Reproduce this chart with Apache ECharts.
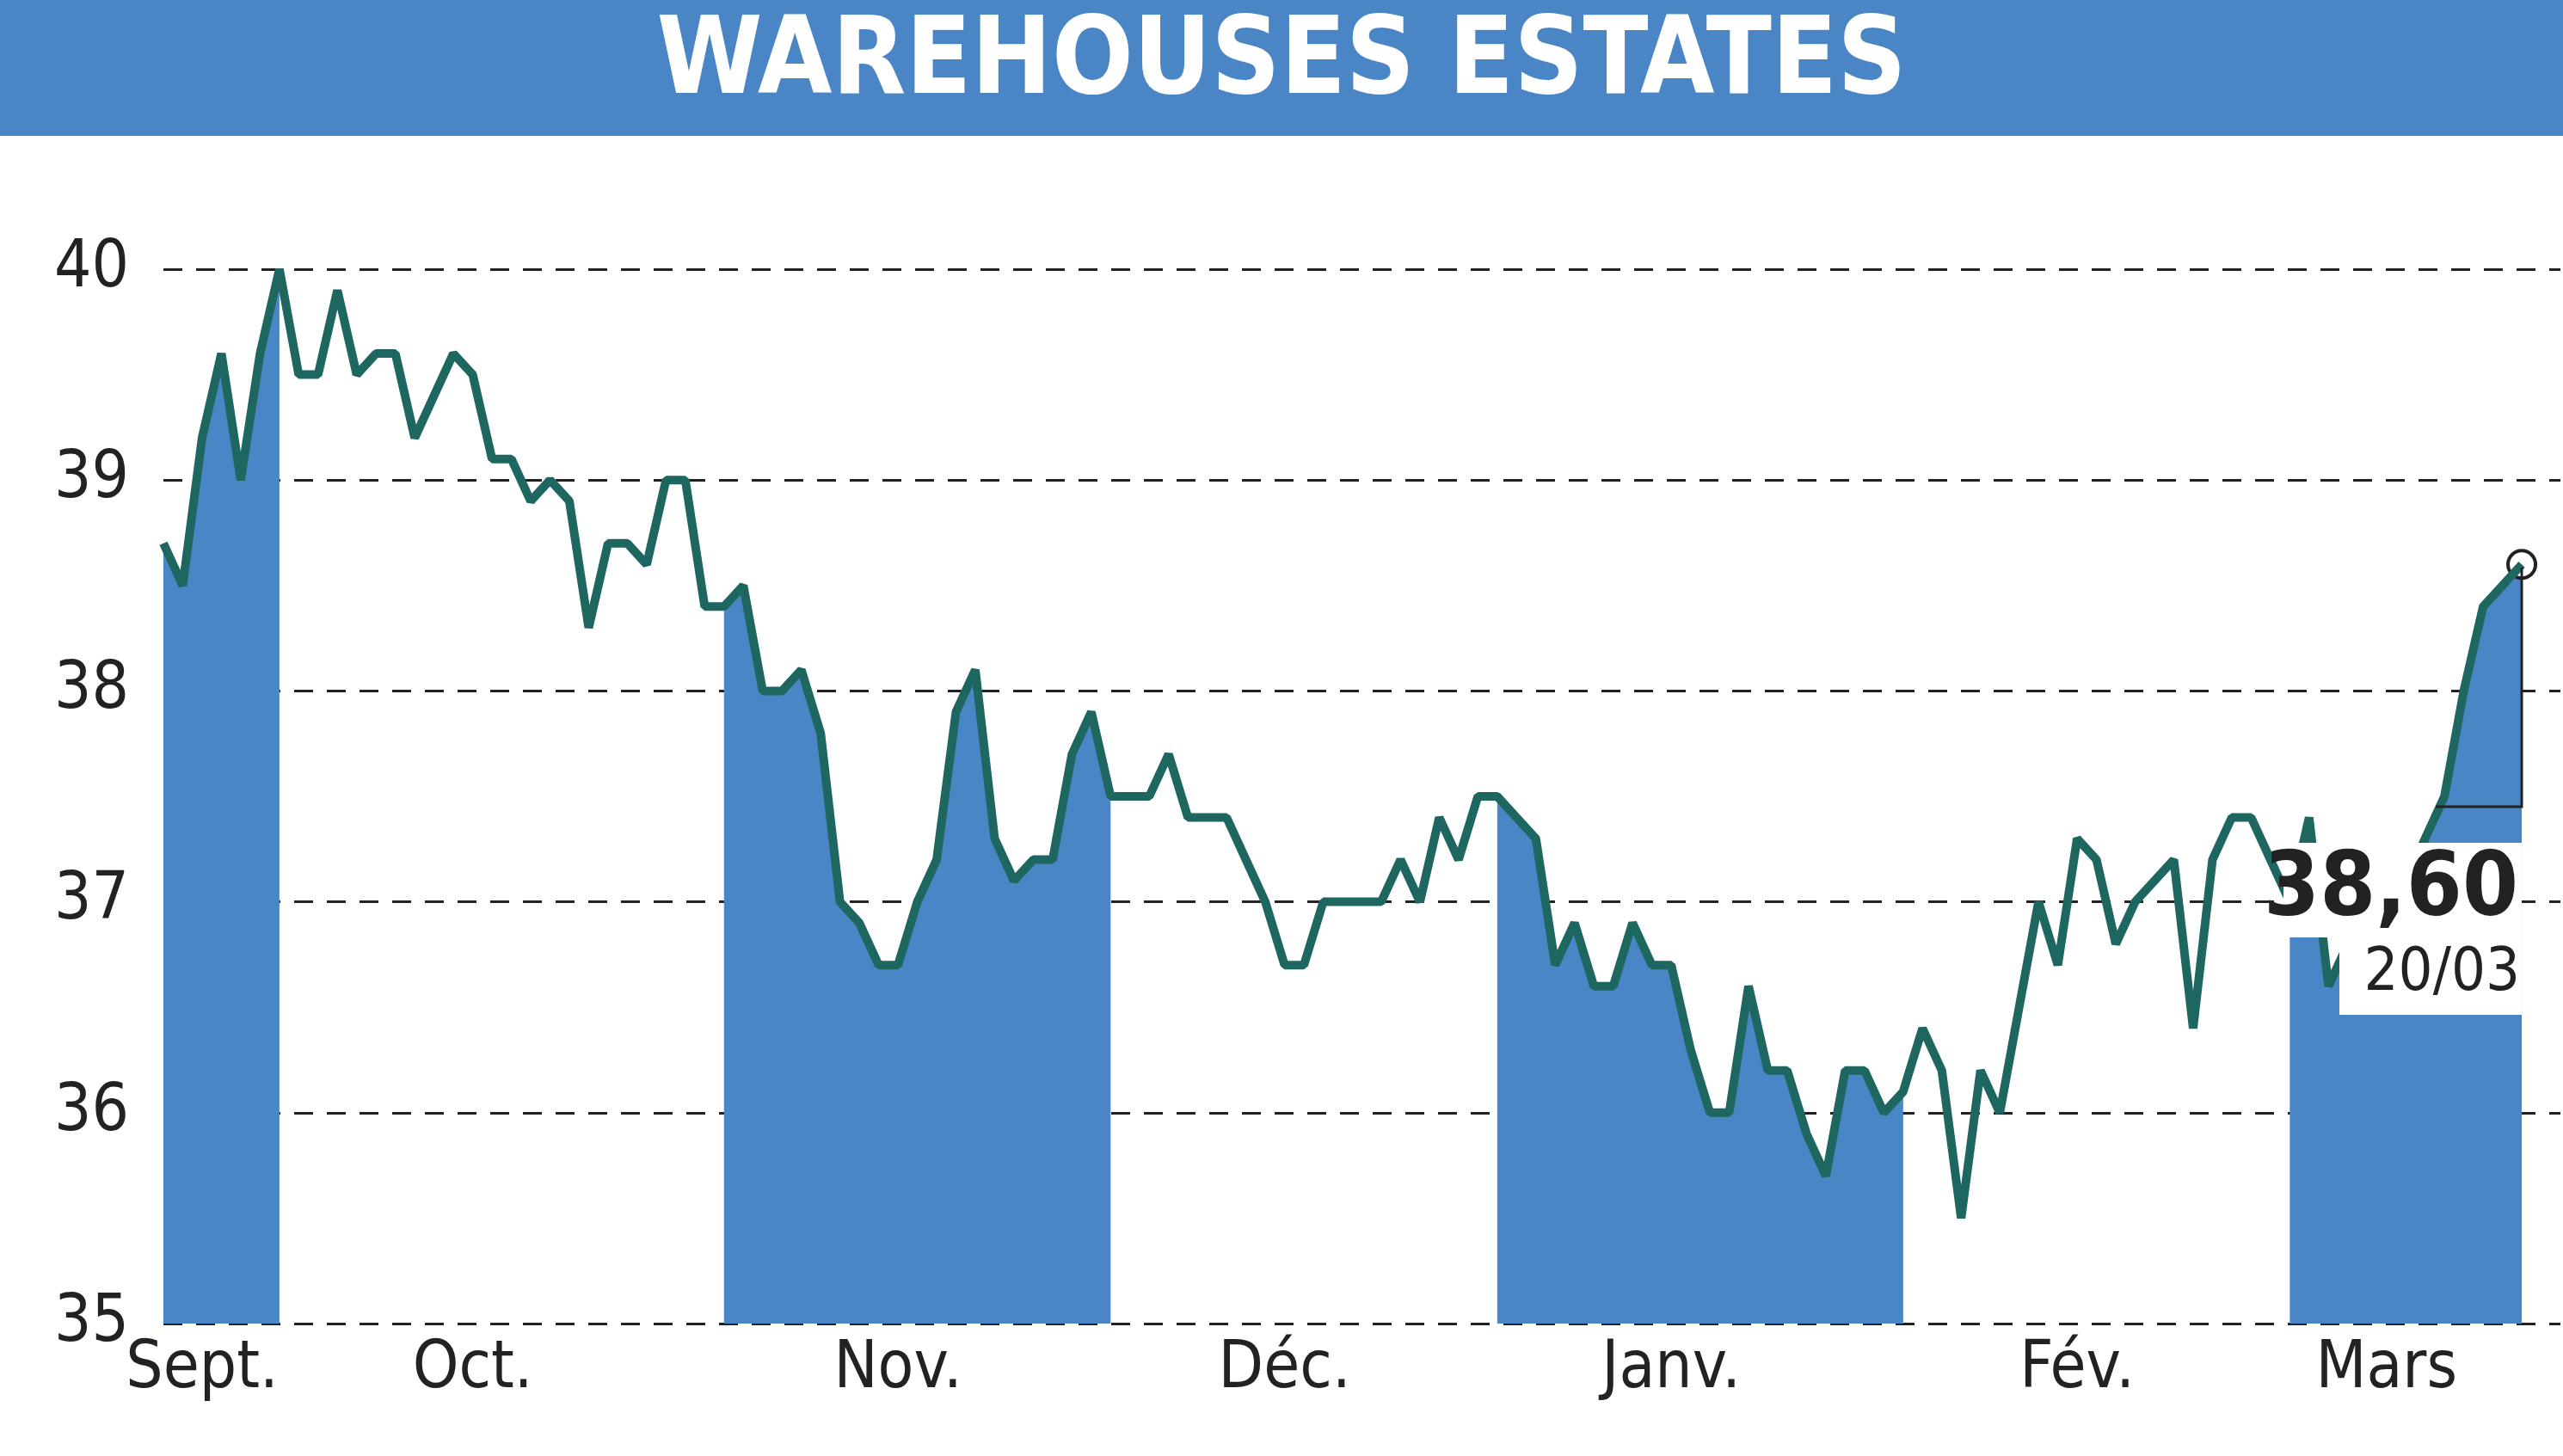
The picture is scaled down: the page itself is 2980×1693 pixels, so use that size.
<!DOCTYPE html>
<html><head><meta charset="utf-8">
<script src="https://cdn.jsdelivr.net/npm/echarts@6/dist/echarts.min.js"></script>
<style>html,body{margin:0;padding:0;background:#fff}#main{width:2980px;height:1693px}</style>
</head><body><div id="main"></div>
<script>
// cours quotidiens
var prices = [38.7,38.5,39.2,39.6,39.0,39.6,40.0,39.5,39.5,39.9,39.5,39.6,39.6,39.2,39.4,39.6,39.5,39.1,39.1,38.9,
  39.0,38.9,38.3,38.7,38.7,38.6,39.0,39.0,38.4,38.4,38.5,38.0,38.0,38.1,37.8,37.0,36.9,36.7,36.7,37.0,
  37.2,37.9,38.1,37.3,37.1,37.2,37.2,37.7,37.9,37.5,37.5,37.5,37.7,37.4,37.4,37.4,37.2,37.0,36.7,36.7,
  37.0,37.0,37.0,37.0,37.2,37.0,37.4,37.2,37.5,37.5,37.4,37.3,36.7,36.9,36.6,36.6,36.9,36.7,36.7,36.3,
  36.0,36.0,36.6,36.2,36.2,35.9,35.7,36.2,36.2,36.0,36.1,36.4,36.2,35.5,36.2,36.0,36.5,37.0,36.7,37.3,
  37.2,36.8,37.0,37.1,37.2,36.4,37.2,37.4,37.4,37.2,37.0,37.4,36.6,36.8,36.9,37.0,37.1,37.3,37.5,38.0,
  38.4,38.5,38.6];
// bandes de mois (index debut, fin)
var bands = [[0,6],[29,49],[69,90],[110,122]];
var monthNames = ['Sept.','Oct.','Nov.','Déc.','Janv.','Fév.','Mars'];
var monthIdx = [2,16,38,58,78,99,115];

var FONT = '"DejaVu Sans Condensed", "Liberation Sans Narrow", sans-serif';
var lineData = prices.map(function(v,i){return [i,v];});
var bandSeries = bands.map(function(b){
  return {type:'line', data: lineData.slice(b[0], b[1]+1), symbol:'none', silent:true,
    lineStyle:{width:0}, areaStyle:{color:'#4a86c5', opacity:1, origin:'start'}, z:1};
});

var myChart = echarts.init(document.getElementById('main'));
var last = lineData[lineData.length-1];
myChart.setOption({
  animation:false,
  grid:{left:190, right:0, top:313, bottom:154},
  xAxis:{type:'value', min:0, max:124, interval:1,
    axisLine:{show:false}, axisTick:{show:false}, splitLine:{show:false},
    axisLabel:{fontFamily:FONT, fontSize:76, color:'#222', margin:16,
      formatter:function(v){var k=monthIdx.indexOf(v);return k<0?'':monthNames[k];}}},
  yAxis:{type:'value', min:35, max:40, interval:1,
    axisLine:{show:false}, axisTick:{show:false},
    splitLine:{lineStyle:{type:[22,16], color:'#222', width:3}},
    axisLabel:{fontFamily:FONT, fontSize:76, color:'#222', margin:40}},
  graphic:[
    {type:'rect', shape:{x:0,y:0,width:2980,height:158}, style:{fill:'#4a86c5'}},
    {type:'text', left:'center', top:14, style:{text:'WAREHOUSES ESTATES', fill:'#fff',
      font:'bold 124px ' + FONT}},
    {type:'rect', shape:{x:2655,y:980,width:277,height:110}, style:{fill:'#fff'}, z:50},
    {type:'rect', shape:{x:2720,y:1090,width:212,height:90}, style:{fill:'#fff'}, z:50},
    {type:'text', x:2928, y:985, style:{text:'38,60', fill:'#222', align:'right',
      font:'bold 104px ' + FONT}, z:51},
    {type:'text', x:2930, y:1098, style:{text:'20/03', fill:'#222', align:'right',
      font:'70px ' + FONT}, z:51},
    {type:'polyline', shape:{points:[[2932,660],[2932,938],[2832,938]]}, style:{stroke:'#222', lineWidth:3, fill:null}, z:52}
  ],
  series: bandSeries.concat([{
    type:'line', data:lineData, symbol:'none', z:10,
    lineStyle:{color:'#1e6660', width:10},
    markPoint:{symbol:'circle', symbolSize:32, data:[{coord:last}],
      itemStyle:{color:'#fff', borderColor:'#222', borderWidth:4}, label:{show:false}}
  }])
});
</script></body></html>
